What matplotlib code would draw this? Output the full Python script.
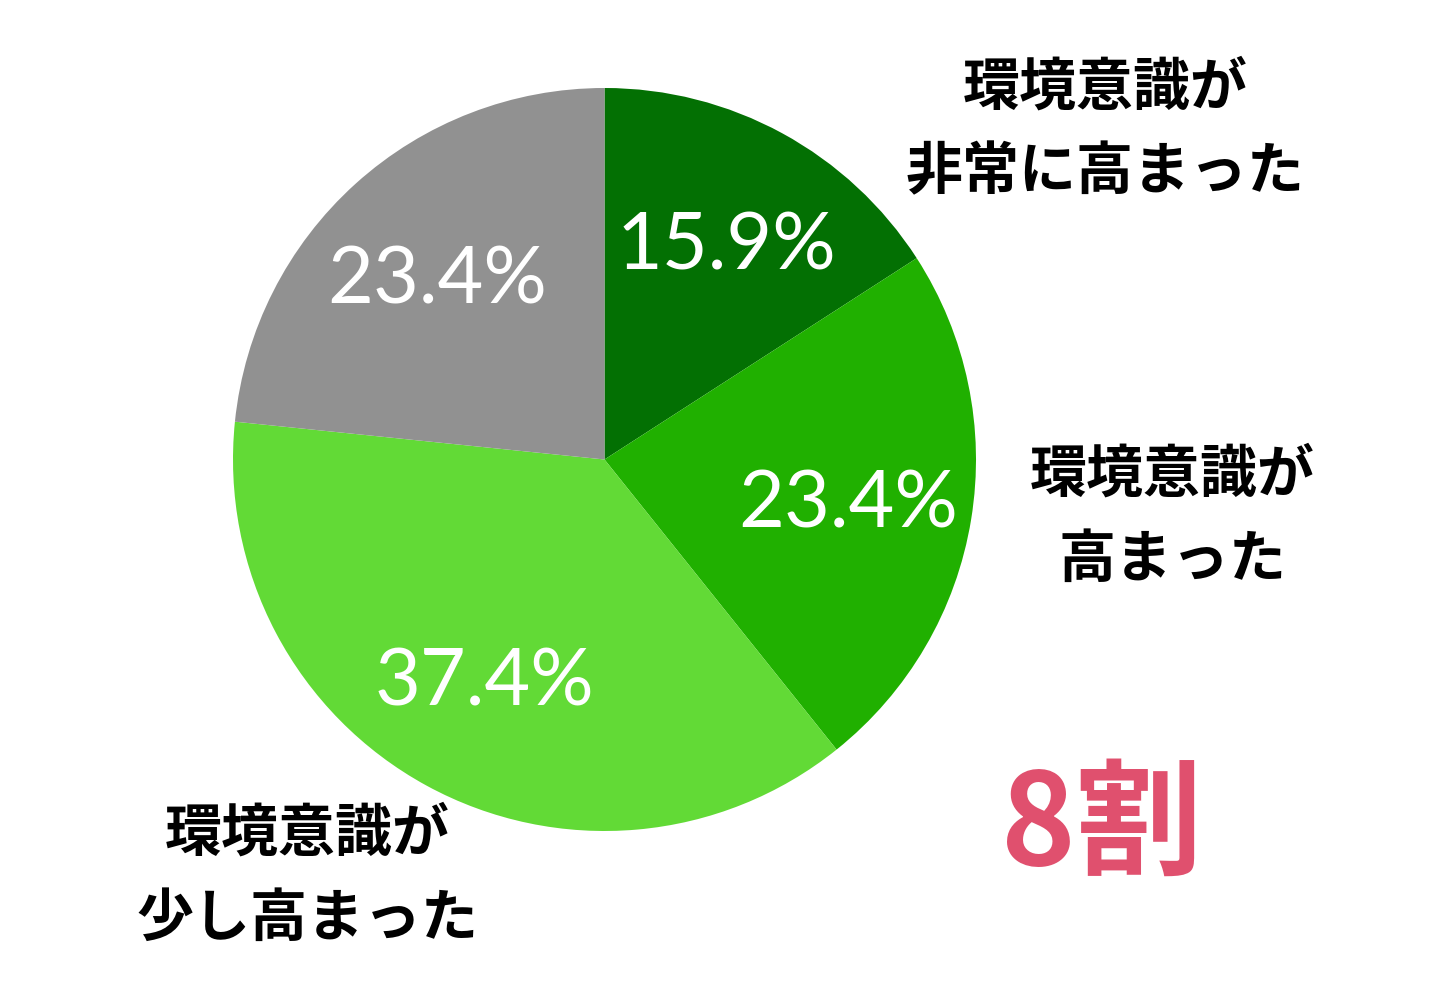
import matplotlib
matplotlib.use("Agg")
import matplotlib.pyplot as plt

W, H = 1444, 988
values = [15.9, 23.4, 37.4, 23.4]
pct_labels = ["15.9%", "23.4%", "37.4%", "23.4%"]
cat_labels = ["環境意識が\n非常に高まった", "環境意識が\n高まった", "環境意識が\n少し高まった", ""]
colors = ["#037003", "#20B000", "#62DA36", "#919191"]
highlight = "8割"

fig = plt.figure(figsize=(W / 100, H / 100), dpi=100)
ax = fig.add_axes([0, 0, 1, 1])

cx, cy, r = 604.5, H - 459.5, 371.5
ax.pie(values, colors=colors, startangle=90, counterclock=False,
       center=(cx, cy), radius=r, frame=True,
       wedgeprops=dict(linewidth=0))
ax.set_xlim(0, W)
ax.set_ylim(0, H)
ax.set_aspect("equal")
ax.axis("off")

pct_pos = [(726, 248), (848, 506), (484, 684), (437, 282)]
for (x, y), t in zip(pct_pos, pct_labels):
    ax.text(x, H - y, t, color="white", fontsize=57, fontfamily=["Lato", "DejaVu Sans"],
            fontweight="normal", ha="center", va="center")

cat_pos = [(1105, 130), (1172, 517), (307, 876)]
jp = ["Noto Sans CJK JP", "DejaVu Sans"]
for (x, y), t in zip(cat_pos, cat_labels[:3]):
    ax.text(x, H - y, t, color="black", fontsize=41, fontfamily=jp, fontweight="bold",
            ha="center", va="center", linespacing=1.6)

ax.text(1102, H - 827, highlight, color="#E0506E", fontsize=91, fontfamily=jp,
        fontweight="bold", ha="center", va="center")

fig.savefig("out.png", dpi=100, facecolor="white")
